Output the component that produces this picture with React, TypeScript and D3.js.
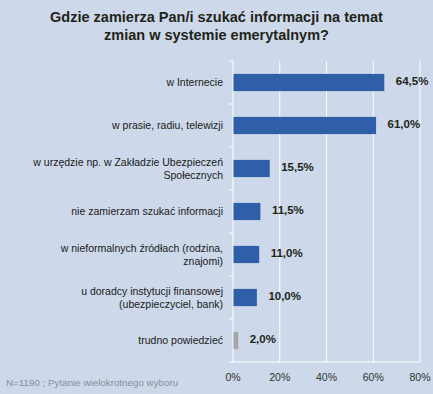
import React from 'react'
import * as d3 from 'd3'

const categories: string[][] = [
  ['w Internecie'],
  ['w prasie, radiu, telewizji'],
  ['w urzędzie np. w Zakładzie Ubezpieczeń', 'Społecznych'],
  ['nie zamierzam szukać informacji'],
  ['w nieformalnych źródłach (rodzina,', 'znajomi)'],
  ['u doradcy instytucji finansowej', '(ubezpieczyciel, bank)'],
  ['trudno powiedzieć'],
]
const values = [64.5, 61.0, 15.5, 11.5, 11.0, 10.0, 2.0]
const barColors = ['#2e5fa8', '#2e5fa8', '#2e5fa8', '#2e5fa8', '#2e5fa8', '#2e5fa8', '#a6a6a6']
const xTicks = [0, 20, 40, 60, 80]
const titleLines = ['Gdzie zamierza Pan/i szukać informacji na temat', 'zmian w systemie emerytalnym?']
const footnote = 'N=1190 ; Pytanie wielokrotnego wyboru'

const W = 433
const H = 394
const margin = { top: 61, right: 13, bottom: 32, left: 233 }

export default function App() {
  const innerW = W - margin.left - margin.right
  const innerH = H - margin.top - margin.bottom

  const x = d3.scaleLinear().domain([0, 80]).range([0, innerW])
  const y = d3
    .scaleBand<number>()
    .domain(values.map((_, i) => i))
    .range([0, innerH])
    .paddingInner(0.6)
    .paddingOuter(0.3)
  const step = y.step()
  const fmt = (v: number) => v.toFixed(1).replace('.', ',') + '%'
  const font = '"Liberation Sans", Arial, sans-serif'

  return (
    <svg
      width={W}
      height={H}
      style={{ position: 'absolute', left: 0, top: 0, display: 'block' }}
      fontFamily={font}
    >
      <rect width={W} height={H} fill="#cdd8ea" />
      {/* title */}
      <g fontSize={14.5} fontWeight="bold" fill="#1f2418" textAnchor="middle">
        {titleLines.map((t, i) => (
          <text key={i} x={W / 2} y={22 + i * 18}>
            {t}
          </text>
        ))}
      </g>

      <g transform={`translate(${margin.left},${margin.top})`}>
        {/* gridlines */}
        {xTicks.map((t) => (
          <line key={t} x1={x(t)} x2={x(t)} y1={0} y2={innerH} stroke="#ffffff" strokeWidth={1} />
        ))}
        <line x1={0} x2={innerW} y1={innerH} y2={innerH} stroke="#ffffff" strokeWidth={1} />
        {/* category ticks */}
        {d3.range(values.length + 1).map((i) => (
          <line key={i} x1={-4} x2={0} y1={i * step} y2={i * step} stroke="#ffffff" />
        ))}
        {/* bars */}
        {values.map((v, i) => (
          <rect
            key={i}
            x={x(0) + 0.5}
            y={y(i)!}
            width={x(v)}
            height={y.bandwidth()}
            fill={barColors[i]}
          />
        ))}
        {/* value labels */}
        {values.map((v, i) => (
          <text
            key={i}
            x={x(v) + 12}
            y={y(i)! + y.bandwidth() / 2 - 2}
            dy="0.35em"
            fontSize={11.5}
            fontWeight="bold"
            fill="#1f2418"
          >
            {fmt(v)}
          </text>
        ))}
        {/* category labels */}
        {categories.map((lines, i) => {
          const cy = y(i)! + y.bandwidth() / 2
          return (
            <text key={i} x={-10} textAnchor="end" fontSize={10.5} fill="#1a1a1a">
              {lines.map((l, j) => (
                <tspan key={j} x={-10} y={cy + (j - (lines.length - 1) / 2) * 13} dy="0.35em">
                  {l}
                </tspan>
              ))}
            </text>
          )
        })}
        {/* x tick labels */}
        {xTicks.map((t) => (
          <text key={t} x={x(t)} y={innerH + 15} dy="0.35em" textAnchor="middle" fontSize={10.5} fill="#333333">
            {t}%
          </text>
        ))}
      </g>

      <text x={6} y={386} fontSize={9.8} fill="#8a8f99">
        {footnote}
      </text>
    </svg>
  )
}
